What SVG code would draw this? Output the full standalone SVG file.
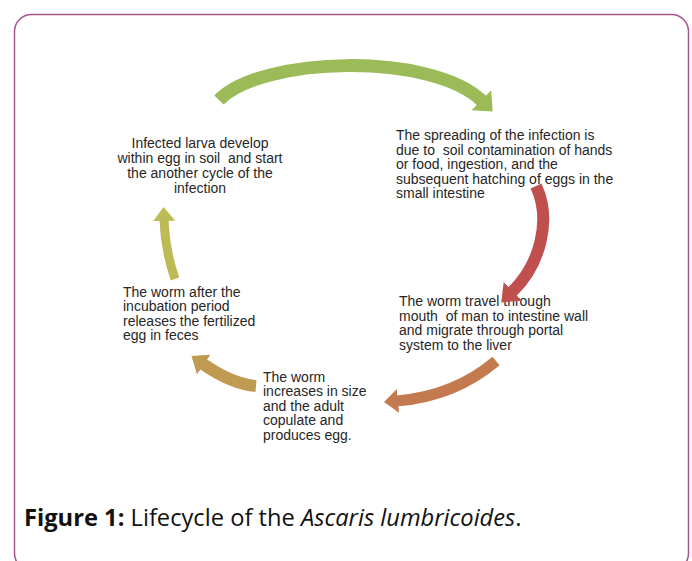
<svg xmlns="http://www.w3.org/2000/svg" width="692" height="561" viewBox="0 0 692 561">
<defs>
<style>
.t{font-family:"Liberation Sans",Arial,sans-serif;font-size:14px;fill:#262626;white-space:pre}
.cap{font-family:"Open Sans","Liberation Sans",sans-serif;font-size:23.7px;fill:#111}
.arc{fill:none;stroke-linecap:butt}
</style>
<marker id="hG" markerUnits="userSpaceOnUse" viewBox="0 0 16 28" refX="1" refY="14" markerWidth="16" markerHeight="28" orient="auto"><path d="M0,0 L16,14 L0,28 z" fill="#9bbb59"/></marker>
<marker id="hR" markerUnits="userSpaceOnUse" viewBox="0 0 16 26" refX="1" refY="13" markerWidth="16" markerHeight="26" orient="auto"><path d="M0,0 L16,13 L0,26 z" fill="#c0504d"/></marker>
<marker id="hO" markerUnits="userSpaceOnUse" viewBox="0 0 14 24" refX="1" refY="12" markerWidth="14" markerHeight="24" orient="auto"><path d="M0,0 L14,12 L0,24 z" fill="#c47a4f"/></marker>
<marker id="hT" markerUnits="userSpaceOnUse" viewBox="0 0 15 24" refX="1" refY="12" markerWidth="15" markerHeight="24" orient="auto"><path d="M0,0 L15,12 L0,24 z" fill="#bf9a50"/></marker>
<marker id="hY" markerUnits="userSpaceOnUse" viewBox="0 0 14 22" refX="1" refY="11" markerWidth="14" markerHeight="22" orient="auto"><path d="M0,0 L14,11 L0,22 z" fill="#bcbb55"/></marker>
</defs>
<rect x="14.5" y="14.5" width="674" height="556" rx="17" fill="#fff" stroke="#a9538a" stroke-width="1.5"/>
<g id="node-larva">
<text class="t" text-anchor="middle"><tspan x="200" y="148">Infected larva develop</tspan><tspan x="200" y="163">within egg in soil  and start</tspan><tspan x="200" y="178">the another cycle of the</tspan><tspan x="200" y="193">infection</tspan></text>
</g>
<g id="node-spreading">
<text class="t"><tspan x="396" y="140">The spreading of the infection is</tspan><tspan x="396" y="154.5">due to  soil contamination of hands</tspan><tspan x="396" y="169">or food, ingestion, and the</tspan><tspan x="396" y="183.5">subsequent hatching of eggs in the</tspan><tspan x="396" y="198">small intestine</tspan></text>
</g>
<g id="node-travel">
<text class="t"><tspan x="399" y="306">The worm travel through</tspan><tspan x="399" y="320.5">mouth  of man to intestine wall</tspan><tspan x="399" y="335">and migrate through portal</tspan><tspan x="399" y="349.5">system to the liver</tspan></text>
</g>
<g id="node-increase">
<text class="t"><tspan x="263" y="381.5">The worm</tspan><tspan x="263" y="396">increases in size</tspan><tspan x="263" y="410.5">and the adult</tspan><tspan x="263" y="425">copulate and</tspan><tspan x="263" y="439.5">produces egg.</tspan></text>
</g>
<g id="node-release">
<text class="t"><tspan x="123" y="296.5">The worm after the</tspan><tspan x="123" y="311">incubation period</tspan><tspan x="123" y="325.5">releases the fertilized</tspan><tspan x="123" y="340">egg in feces</tspan></text>
</g>
<g id="connectors">
<path class="arc" d="M219 100 C262 56 432 52 482 101" stroke="#9bbb59" stroke-width="13" marker-end="url(#hG)"/>
<path class="arc" d="M536 186 C552 220 540 265 512 292" stroke="#c0504d" stroke-width="12" marker-end="url(#hR)"/>
<path class="arc" d="M496 361 Q455 396 397 401" stroke="#c47a4f" stroke-width="11" marker-end="url(#hO)"/>
<path class="arc" d="M256 386 Q232 384 203 364" stroke="#bf9a50" stroke-width="12" marker-end="url(#hT)"/>
<path class="arc" d="M175 279 Q165 250 164 220" stroke="#bcbb55" stroke-width="9" marker-end="url(#hY)"/>
</g>
<text class="cap" x="24" y="526"><tspan font-weight="bold">Figure 1:</tspan> Lifecycle of the <tspan font-style="italic">Ascaris lumbricoides</tspan>.</text>
</svg>
